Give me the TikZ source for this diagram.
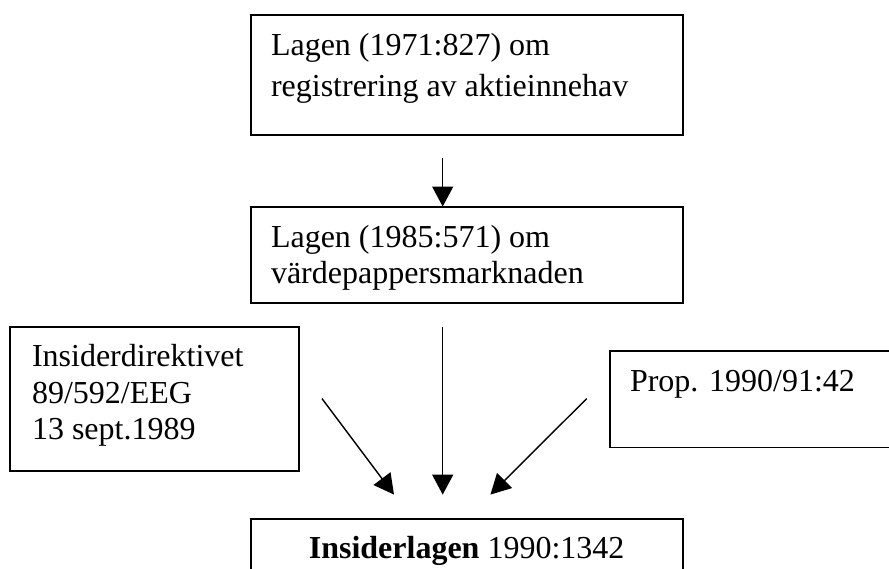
\documentclass[tikz,border=0pt]{standalone}
\usepackage{fontspec}
\setmainfont{Liberation Serif}
\usetikzlibrary{arrows.meta}
\begin{document}
\begin{tikzpicture}[x=1pt,y=-1pt,
  box/.style={draw=black,line width=1.8pt,fill=none,inner sep=0pt,outer sep=0pt,anchor=north west},
  txt/.style={inner sep=0pt,outer sep=0pt,anchor=base west,font=\fontsize{32}{36.8}\selectfont},
  arr/.style={line width=1.4pt,-{Triangle[length=20pt,width=21pt]}}]
  % page and clipping frame
  \fill[white] (0,0) rectangle (889,568);
  \useasboundingbox (0,0) rectangle (889,568);
  \clip (0,0) rectangle (889,568);

  % boxes
  \node[box,minimum width=432pt,minimum height=119.6pt] (b1) at (250.6,15.2) {};
  \node[box,minimum width=432pt,minimum height=96pt] (b2) at (250.6,207) {};
  \node[box,minimum width=288.6pt,minimum height=144.2pt] (dir) at (10.2,326.8) {};
  \node[box,minimum width=300pt,minimum height=96.8pt] (prop) at (610,350.7) {};
  \node[box,minimum width=432pt,minimum height=80pt] (law) at (250.6,518.8) {};

  % texts
  \node[txt] (t11) at (271,55) {Lagen (1971:827) om};
  \node[txt] (t12) at (271,96.7) {registrering av aktieinnehav};
  \node[txt] (t21) at (271,247) {Lagen (1985:571) om};
  \node[txt] (t22) at (271,283.3) {värdepappersmarknaden};
  \node[txt] (t31) at (32,366.7) {Insiderdirektivet};
  \node[txt] (t32) at (32,403) {89/592/EEG};
  \node[txt] (t33) at (32,439.3) {13 sept.1989};
  \node[txt] (t41) at (630,391) {Prop. 1990/91:42};
  \node[txt,anchor=base] (t51) at (466.6,558.5) {\textbf{Insiderlagen} 1990:1342};

  % connector end points
  \coordinate (s1) at (442.7,158);
  \coordinate (e1) at (442.7,206.5);
  \coordinate (sc) at (442.7,326.8);
  \coordinate (ec) at (442.7,494.6);
  \coordinate (sl) at (322,398.6);
  \coordinate (el) at (394,494.6);
  \coordinate (sr) at (586.7,398.6);
  \coordinate (er) at (490.4,494.6);

  % connectors
  \draw[arr] (s1) -- (e1);
  \draw[arr] (sc) -- (ec);
  \draw[arr] (sl) -- (el);
  \draw[arr] (sr) -- (er);
\end{tikzpicture}
\end{document}
